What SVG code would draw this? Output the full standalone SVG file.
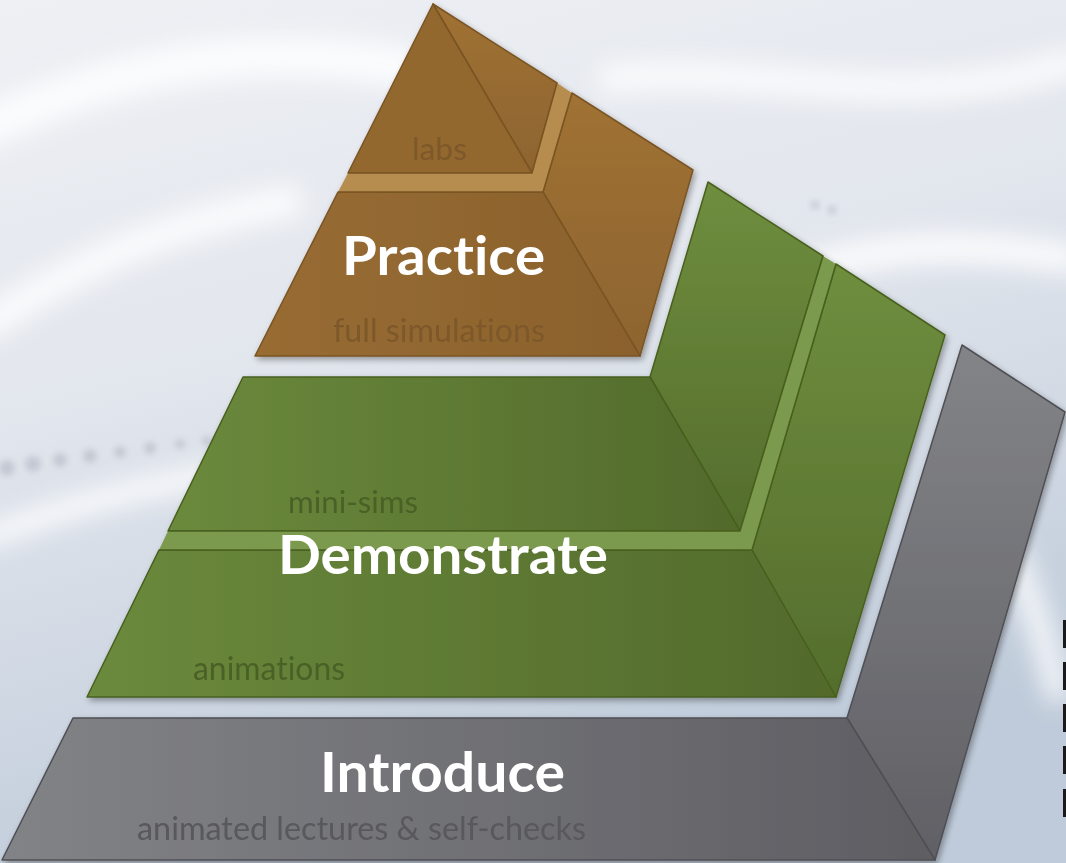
<svg xmlns="http://www.w3.org/2000/svg" width="1066" height="863" viewBox="0 0 1066 863">
  <defs>
    <linearGradient id="bg" x1="0" y1="0" x2="0.3" y2="1">
      <stop offset="0" stop-color="#eef0f4"/>
      <stop offset="0.45" stop-color="#e2e6ed"/>
      <stop offset="1" stop-color="#bfcbda"/>
    </linearGradient>
    <filter id="blur12" x="-20%" y="-20%" width="140%" height="140%"><feGaussianBlur stdDeviation="12"/></filter>
    <filter id="blur4" x="-50%" y="-50%" width="200%" height="200%"><feGaussianBlur stdDeviation="3"/></filter>
    <filter id="shadow" x="-10%" y="-10%" width="120%" height="120%">
      <feGaussianBlur in="SourceAlpha" stdDeviation="3"/>
      <feOffset dx="2" dy="3"/>
      <feComponentTransfer><feFuncA type="linear" slope="0.35"/></feComponentTransfer>
      <feMerge><feMergeNode/><feMergeNode in="SourceGraphic"/></feMerge>
    </filter>
    <linearGradient id="brFront" x1="0" y1="0" x2="1" y2="0">
      <stop offset="0" stop-color="#986c32"/><stop offset="1" stop-color="#8a612d"/>
    </linearGradient>
    <linearGradient id="brSide" x1="0" y1="0" x2="0" y2="1">
      <stop offset="0" stop-color="#a07234"/><stop offset="1" stop-color="#8d642f"/>
    </linearGradient>
    <linearGradient id="grFront" x1="0" y1="0" x2="1" y2="0">
      <stop offset="0" stop-color="#6b8a3c"/><stop offset="1" stop-color="#526a2c"/>
    </linearGradient>
    <linearGradient id="grSide" x1="0" y1="0" x2="0" y2="1">
      <stop offset="0" stop-color="#6f8e3e"/><stop offset="1" stop-color="#546d2d"/>
    </linearGradient>
    <linearGradient id="gyFront" x1="0" y1="0" x2="1" y2="0">
      <stop offset="0" stop-color="#828387"/><stop offset="1" stop-color="#5e5e63"/>
    </linearGradient>
    <linearGradient id="gySide" x1="0" y1="0" x2="0" y2="1">
      <stop offset="0" stop-color="#838488"/><stop offset="1" stop-color="#606065"/>
    </linearGradient>
    <style>
      text { font-variant-ligatures: none; font-family: Lato, "Open Sans", "Liberation Sans", sans-serif; }
      .title { font-weight: 700; fill: #ffffff; }
      .sub { font-weight: 400; }
      .br { stroke: #7a5424; stroke-width: 1.5; stroke-linejoin: round; }
      .gr { stroke: #48601f; stroke-width: 1.5; stroke-linejoin: round; }
      .gy { stroke: #4f4f54; stroke-width: 1.5; stroke-linejoin: round; }
      .dot { fill: #c3c8d3; filter: url(#blur4); }
    </style>
  </defs>

  <!-- background -->
  <rect x="0" y="0" width="1066" height="863" fill="url(#bg)"/>
  <g opacity="0.85" filter="url(#blur12)" fill="none" stroke="#ffffff">
    <path d="M -40 140 C 120 60 260 40 420 70" stroke-width="40"/>
    <path d="M -20 330 C 80 260 180 220 300 200" stroke-width="30"/>
    <path d="M -20 540 C 80 500 170 480 250 470" stroke-width="22"/>
    <path d="M 600 80 C 760 60 900 120 1080 60" stroke-width="26"/>
    <path d="M 720 300 C 860 240 960 240 1080 260" stroke-width="30"/>
    <path d="M 980 500 C 1020 560 1040 620 1060 700" stroke-width="24"/>
  </g>
  <g>
    <circle class="dot" cx="7" cy="468" r="8"/>
    <circle class="dot" cx="33" cy="464" r="8"/>
    <circle class="dot" cx="60" cy="460" r="7"/>
    <circle class="dot" cx="90" cy="456" r="7"/>
    <circle class="dot" cx="120" cy="452" r="6"/>
    <circle class="dot" cx="150" cy="448" r="6"/>
    <circle class="dot" cx="180" cy="444" r="5"/>
    <circle class="dot" cx="207" cy="441" r="5"/>
    <circle class="dot" cx="815" cy="205" r="4"/>
    <circle class="dot" cx="832" cy="210" r="4"/>
  </g>

  <!-- Introduce -->
  <g id="introduce" filter="url(#shadow)">
    <polygon class="gy" points="847,718 962,345 1065,412 935,860" fill="url(#gySide)"/>
    <polygon class="gy" points="73,718 847,718 935,860 2,860" fill="url(#gyFront)"/>
    <text class="title" x="320" y="792" font-size="55" textLength="245" lengthAdjust="spacingAndGlyphs">Introduce</text>
    <text class="sub" x="137" y="840" font-size="32" fill="#58585d" textLength="449" lengthAdjust="spacingAndGlyphs">animated lectures &amp; self-checks</text>
  </g>

  <!-- Demonstrate -->
  <g id="demonstrate" filter="url(#shadow)">
    <polygon class="gr" points="752,550 836,264 945,335 836,697" fill="url(#grSide)"/>
    <polygon class="gr" points="159,550 752,550 836,697 87,697" fill="url(#grFront)"/>
    <polygon class="gr" points="650,377 708,182 823,256 740,531" fill="url(#grSide)"/>
    <polygon class="gr" points="243,377 650,377 740,531 168,531" fill="url(#grFront)"/>
    <polygon points="168,531 740,531 823,256 836,264 752,550 159,550" fill="#7b9a4d" stroke="none"/>
    <polyline points="168,531 740,531 823,256" fill="none" stroke="#48601f" stroke-width="1.5"/>
    <polyline points="159,550 752,550 836,264" fill="none" stroke="#48601f" stroke-width="1.5"/>
    <text class="sub" x="288" y="513" font-size="31" fill="#4a6126" textLength="130" lengthAdjust="spacingAndGlyphs">mini-sims</text>
    <text class="title" x="278" y="574" font-size="54" textLength="330" lengthAdjust="spacingAndGlyphs">Demonstrate</text>
    <text class="sub" x="193" y="680" font-size="32" fill="#4a6126" textLength="152" lengthAdjust="spacingAndGlyphs">animations</text>
  </g>

  <!-- Practice -->
  <g id="practice" filter="url(#shadow)">
    <polygon class="br" points="543,192 572,93 693,170 640,356" fill="url(#brSide)"/>
    <polygon class="br" points="338,192 543,192 640,356 255,356" fill="url(#brFront)"/>
    <polygon class="br" points="433,4 557,83 532,173" fill="url(#brSide)"/>
    <polygon class="br" points="433,4 532,173 348,173" fill="#93672f"/>
    <polygon points="348,173 532,173 557,83 572,93 543,192 338,192" fill="#b68c4f" stroke="none"/>
    <polyline points="348,173 532,173 557,83" fill="none" stroke="#7a5424" stroke-width="1.5"/>
    <polyline points="338,192 543,192 572,93" fill="none" stroke="#7a5424" stroke-width="1.5"/>
    <text class="sub" x="412" y="160" font-size="31" fill="#7d5829" textLength="55" lengthAdjust="spacingAndGlyphs">labs</text>
    <text class="title" x="342" y="275" font-size="54" textLength="203" lengthAdjust="spacingAndGlyphs">Practice</text>
    <text class="sub" x="333" y="342" font-size="32" fill="#7d5829" textLength="212" lengthAdjust="spacingAndGlyphs">full simulations</text>
  </g>

  <!-- right-edge bars -->
  <g fill="#1a1a1a">
    <rect x="1063" y="620" width="3" height="28"/>
    <rect x="1063" y="662" width="3" height="28"/>
    <rect x="1063" y="704" width="3" height="28"/>
    <rect x="1063" y="746" width="3" height="28"/>
    <rect x="1063" y="789" width="3" height="28"/>
  </g>
</svg>
